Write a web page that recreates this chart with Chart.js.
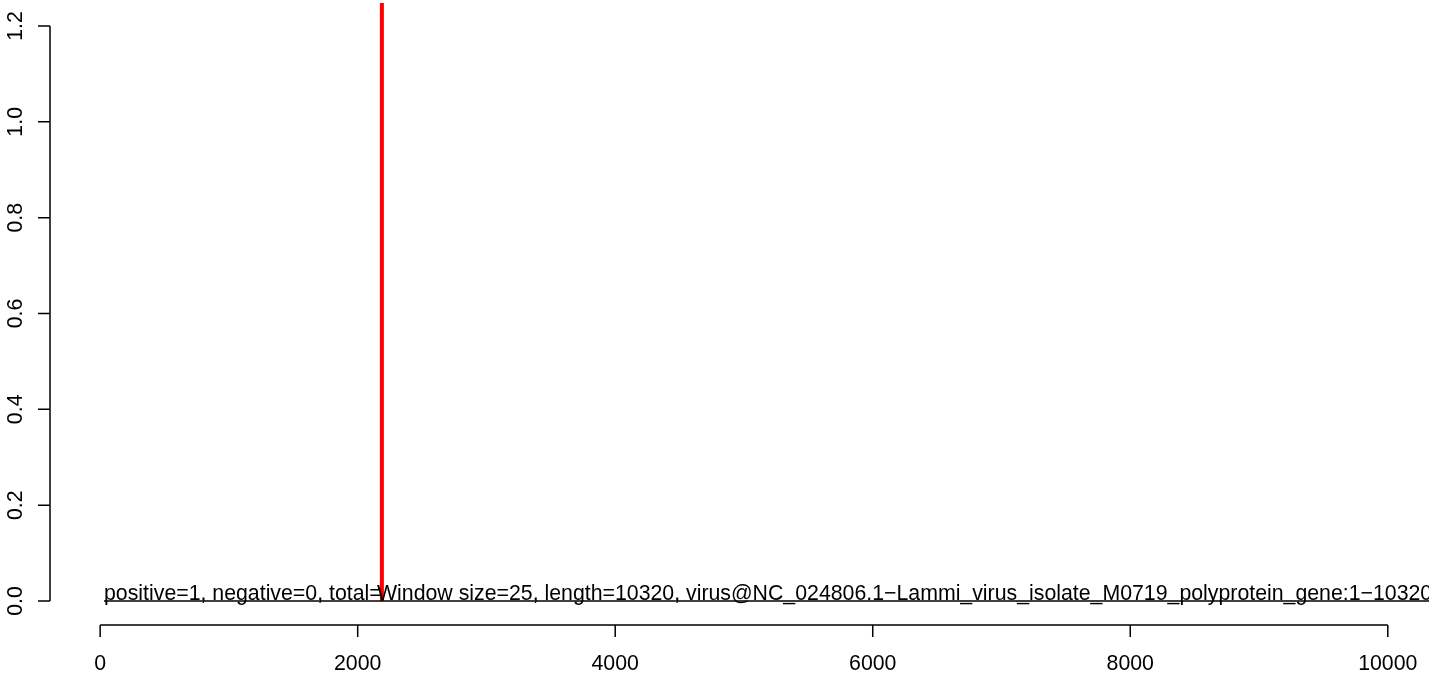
<!DOCTYPE html>
<html>
<head>
<meta charset="utf-8">
<title>Window scan</title>
<script src="https://cdn.jsdelivr.net/npm/chart.js@4.4.1/dist/chart.umd.min.js"></script>
<style>
  html, body { margin: 0; padding: 0; background: #fff; }
  #wrap { width: 1429px; height: 673px; }
</style>
</head>
<body>
<div id="wrap"><canvas id="scan"></canvas></div>
<script>
// data
const xTicks = [0, 2000, 4000, 6000, 8000, 10000];
const yTicks = [0, 0.2, 0.4, 0.6, 0.8, 1.0, 1.2];
const hitX = [2188];
const hitY = [1.3];
const baseX = [30, 10320];
const baseY = [0, 0];
const seqLength = 10320;
const leftNote = 'positive=1, negative=0, total=';
const rightNote = 'Window size=25, length=10320, virus@NC_024806.1\u2212Lammi_virus_isolate_M0719_polyprotein_gene:1\u221210320';
const leftNoteX = 30;
const rightNoteX = 2150;

const FONT = '21.3px "Liberation Sans", Arial, sans-serif';

// R-style axes + text labels, positioned from the chart scales
const rAxes = {
  id: 'rAxes',
  afterDatasetsDraw(chart) {
    const ctx = chart.ctx;
    const xs = chart.scales.x, ys = chart.scales.y;
    ctx.save();
    ctx.strokeStyle = '#000';
    ctx.fillStyle = '#000';
    ctx.lineWidth = 1.5;
    ctx.font = FONT;

    // y axis
    const ax = 50;
    ctx.beginPath();
    ctx.moveTo(ax, ys.getPixelForValue(yTicks[0]));
    ctx.lineTo(ax, ys.getPixelForValue(yTicks[yTicks.length - 1]));
    yTicks.forEach(t => {
      const py = ys.getPixelForValue(t);
      ctx.moveTo(ax, py);
      ctx.lineTo(ax - 12, py);
    });
    ctx.stroke();
    ctx.textAlign = 'center';
    ctx.textBaseline = 'alphabetic';
    yTicks.forEach(t => {
      const py = ys.getPixelForValue(t);
      ctx.save();
      ctx.translate(22, py);
      ctx.rotate(-Math.PI / 2);
      ctx.fillText(t.toFixed(1), 0, 0);
      ctx.restore();
    });

    // x axis
    const ay = 625;
    ctx.beginPath();
    ctx.moveTo(xs.getPixelForValue(xTicks[0]), ay);
    ctx.lineTo(xs.getPixelForValue(xTicks[xTicks.length - 1]), ay);
    xTicks.forEach(t => {
      const px = xs.getPixelForValue(t);
      ctx.moveTo(px, ay);
      ctx.lineTo(px, ay + 12);
    });
    ctx.stroke();
    ctx.textBaseline = 'middle';
    xTicks.forEach(t => {
      ctx.fillText(String(t), xs.getPixelForValue(t), 664);
    });

    // notes at the baseline
    ctx.textAlign = 'left';
    ctx.textBaseline = 'alphabetic';
    const by = ys.getPixelForValue(0) - 1;
    ctx.fillText(leftNote, xs.getPixelForValue(leftNoteX), by);
    ctx.fillText(rightNote, xs.getPixelForValue(rightNoteX), by);
    ctx.restore();
  }
};

new Chart(document.getElementById('scan'), {
  type: 'line',
  data: {
    datasets: [
      {
        label: 'baseline',
        data: baseX.map((x, i) => ({ x: x, y: baseY[i] })),
        borderColor: '#000',
        borderWidth: 1.5,
        pointRadius: 0
      },
      {
        label: 'hits',
        data: hitX.flatMap((x, i) => [{ x: x, y: 0 }, { x: x, y: hitY[i] }]),
        borderColor: '#ff0000',
        borderWidth: 4,
        borderCapStyle: 'butt',
        pointRadius: 0
      }
    ]
  },
  plugins: [rAxes],
  options: {
    responsive: true,
    maintainAspectRatio: false,
    animation: false,
    layout: { padding: { left: 47, right: 0, top: 3, bottom: 49 } },
    plugins: { legend: { display: false }, tooltip: { enabled: false } },
    scales: {
      x: { type: 'linear', display: false, min: -0.04 * seqLength, max: seqLength },
      y: { type: 'linear', display: false, min: -0.048, max: 1.248 }
    }
  }
});
</script>
</body>
</html>
